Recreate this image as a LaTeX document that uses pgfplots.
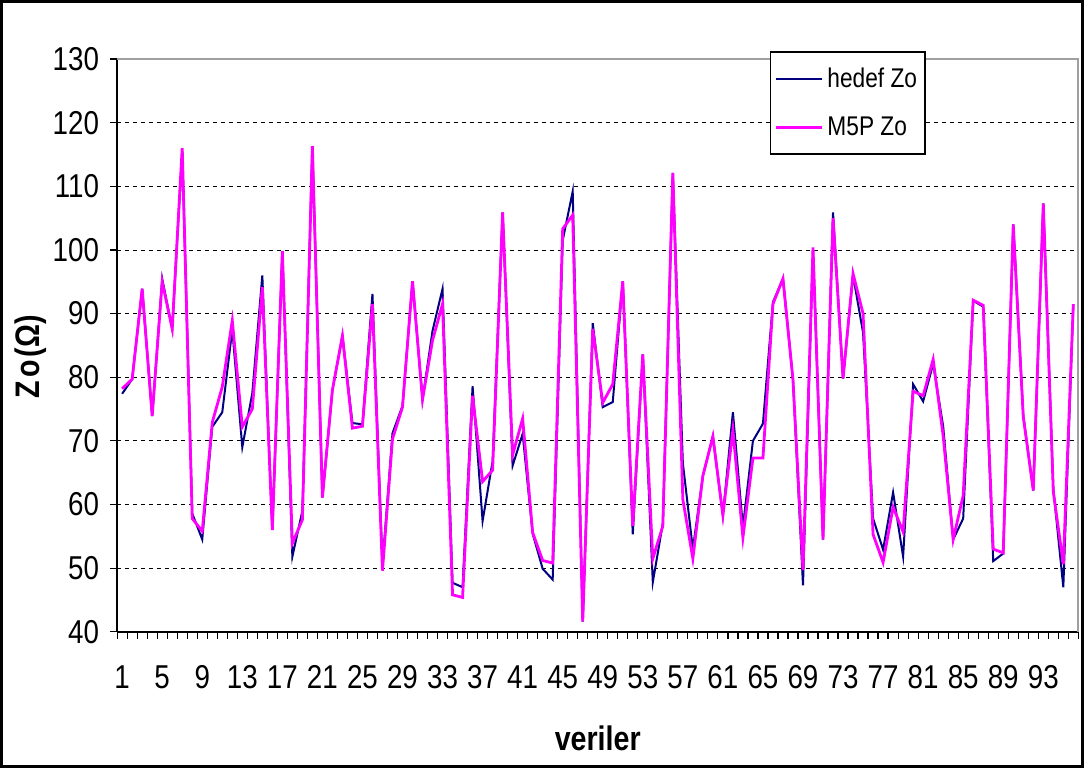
\documentclass[border=0pt]{standalone}
\usepackage{fontspec}
\setmainfont{Liberation Sans}[FakeStretch=0.84]
\usepackage{pgfplots}
\pgfplotsset{compat=1.18}
\usepackage{pgfplotstable}

\definecolor{hedefcol}{RGB}{0,0,128}
\definecolor{mfivepcol}{RGB}{255,0,255}

% i: sample index, hedef: target Zo, m5p: M5P model prediction of Zo
\pgfplotstableread{
i hedef m5p
1 77.4 78.2
2 79.7 79.7
3 93.9 93.9
4 73.9 73.9
5 95.5 95.0
6 87.6 87.6
7 115.6 116.0
8 58.6 57.8
9 54.5 55.8
10 72.2 72.9
11 74.5 78.5
12 87.5 88.9
13 69.0 72.2
14 77.5 75.0
15 96.0 94.2
16 56.0 56.0
17 99.8 99.8
18 51.8 53.9
19 59.0 57.6
20 116.3 116.3
21 61.1 61.1
22 78.0 78.0
23 86.5 86.5
24 72.8 72.0
25 72.6 72.3
26 93.1 91.5
27 50.5 49.6
28 71.2 70.3
29 75.5 75.3
30 95.1 95.1
31 76.5 76.5
32 87.3 85.8
33 93.9 91.5
34 47.7 45.8
35 47.0 45.4
36 78.6 77.1
37 57.4 63.6
38 66.8 65.4
39 105.9 105.9
40 66.1 67.8
41 71.1 73.5
42 55.4 55.6
43 49.9 51.2
44 48.2 50.8
45 101.5 103.3
46 109.2 105.5
47 41.6 41.6
48 88.5 87.6
49 75.3 76.0
50 76.1 78.9
51 95.1 95.1
52 55.3 56.6
53 83.6 83.6
54 47.8 51.5
55 57.0 56.6
56 112.1 112.1
57 66.5 60.8
58 53.0 51.5
59 64.5 64.5
60 70.7 70.7
61 58.3 58.3
62 74.5 71.7
63 56.5 54.8
64 70.0 67.3
65 72.7 67.3
66 91.8 91.5
67 95.5 95.5
68 79.6 79.6
69 47.3 49.7
70 100.0 100.4
71 54.5 54.5
72 105.9 105.0
73 79.8 79.8
74 96.0 96.3
75 87.0 90.0
76 57.8 55.3
77 52.9 50.9
78 61.9 59.6
79 51.8 55.7
80 78.9 77.8
81 76.2 77.1
82 82.1 82.8
83 72.3 70.8
84 54.5 54.5
85 57.8 61.4
86 92.0 92.1
87 91.1 91.3
88 51.1 53.0
89 52.3 52.4
90 104.0 104.0
91 74.0 73.8
92 62.2 62.2
93 107.3 107.3
94 62.5 62.0
95 47.0 50.6
96 91.5 91.5
}\zodata

\begin{document}
\begin{tikzpicture}
\begin{axis}[
  name=ax,
  scale only axis,
  width=480pt, height=286pt,
  xmin=0.5, xmax=96.5, ymin=40, ymax=130,
  clip=false,
  axis x line*=bottom, axis y line*=left,
  axis line style={black, line width=1pt, -},
  xtick={0.5,1.5,...,96.5},
  xticklabels={},
  extra x ticks={1,5,...,93},
  extra x tick labels={1,5,9,13,17,21,25,29,33,37,41,45,49,53,57,61,65,69,73,77,81,85,89,93},
  extra x tick style={major tick length=0pt, xticklabel style={yshift=-13.5pt}},
  ytick={40,50,...,130},
  tick align=outside,
  major tick length=3.5pt,
  tick style={black, line width=0.6pt},
  ymajorgrids,
  grid style={black, dash pattern=on 2pt off 2pt, line width=0.45pt},
  /pgf/number format/assume math mode=true,
  ticklabel style={font=\fontsize{16.5}{18}\selectfont},
  yticklabel style={xshift=-2pt},
  xlabel={veriler},
  ylabel={Z\kern1.5pt o\kern1.5pt(Ω)},
  every axis x label/.style={at={(rel axis cs:0.5,0)}, yshift=-53pt, anchor=center,
    font=\bfseries\fontsize{17}{20}\selectfont},
  every axis y label/.style={at={(rel axis cs:0,0.48)}, xshift=-43pt, anchor=center, rotate=90,
    font=\bfseries\fontsize{17}{20}\selectfont},
  legend style={at={(rel axis cs:0.679,1.014)}, anchor=north west, draw=black, line width=0.8pt,
    fill=white, font=\fontsize{13.5}{15}\selectfont, inner xsep=2pt, inner ysep=6pt,
    row sep=9pt, /tikz/every even column/.append style={column sep=3pt}},
  legend cell align=left,
  legend image code/.code={\draw[#1] (0pt,0pt) -- (23pt,0pt);},
]
  % plot-area frame on the top and right sides
  \draw[gray!75, line width=1pt] (rel axis cs:0,1) -- (rel axis cs:1,1) -- (rel axis cs:1,0);
  \addplot[hedefcol, line width=1pt] table[x=i, y=hedef] {\zodata};
  \addlegendentry{hedef Zo}
  \addplot[mfivepcol, line width=1.4pt] table[x=i, y=m5p] {\zodata};
  \addlegendentry{M5P Zo}
\end{axis}
% outer chart border
\draw[black, line width=1.5pt]
  ([xshift=-57.75pt, yshift=-67.25pt]ax.south west) rectangle
  ([xshift=2.25pt, yshift=28.75pt]ax.north east);
\end{tikzpicture}
\end{document}
